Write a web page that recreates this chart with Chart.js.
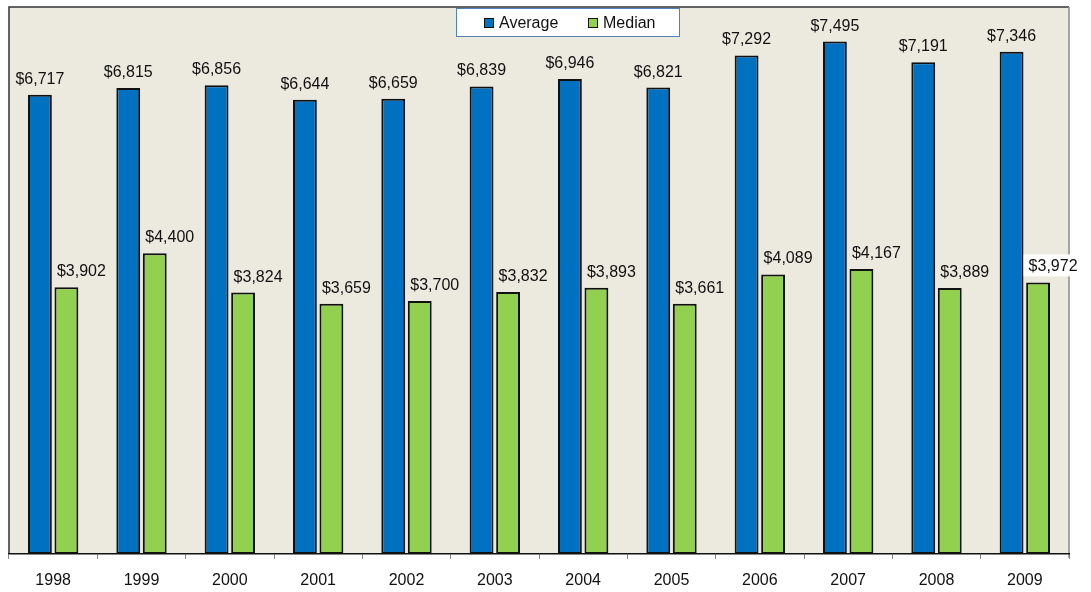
<!DOCTYPE html>
<html>
<head>
<meta charset="utf-8">
<script src="https://cdn.jsdelivr.net/npm/chart.js@4.4.1/dist/chart.umd.min.js"></script>
<style>
  html, body { margin: 0; padding: 0; background: #ffffff; }
  #wrap { width: 1091px; height: 592px; position: relative; }
</style>
</head>
<body>
<div id="wrap"><canvas id="c" width="1091" height="592"></canvas></div>
<script>
const years = ['1998','1999','2000','2001','2002','2003','2004','2005','2006','2007','2008','2009'];
const averageValues = [6717, 6815, 6856, 6644, 6659, 6839, 6946, 6821, 7292, 7495, 7191, 7346];
const medianValues = [3902, 4400, 3824, 3659, 3700, 3832, 3893, 3661, 4089, 4167, 3889, 3972];
const seriesNames = ['Average', 'Median'];

const FONT = '"Liberation Sans", Arial, Helvetica, sans-serif';
const fmt = v => '$' + v.toLocaleString('en-US');

const bgPlugin = {
  id: 'plotBg',
  beforeDraw(chart) {
    const {ctx, chartArea: a} = chart;
    ctx.save();
    ctx.fillStyle = '#ECE9DF';
    ctx.fillRect(a.left, a.top, a.right - a.left, a.bottom - a.top);
    ctx.lineWidth = 1.5;
    ctx.strokeStyle = '#333333';
    ctx.beginPath();
    ctx.moveTo(a.left, a.bottom);
    ctx.lineTo(a.left, a.top);
    ctx.lineTo(a.right, a.top);
    ctx.stroke();
    ctx.strokeStyle = '#8a8a8a';
    ctx.beginPath();
    ctx.moveTo(a.right, a.top);
    ctx.lineTo(a.right, a.bottom + 4);
    ctx.stroke();
    ctx.restore();
  }
};

const labelPlugin = {
  id: 'valueLabels',
  afterDatasetsDraw(chart) {
    const {ctx, chartArea: a} = chart;
    ctx.save();
    ctx.font = '16px ' + FONT;
    ctx.textBaseline = 'alphabetic';
    ctx.textAlign = 'center';
    chart.data.datasets.forEach((ds, di) => {
      const meta = chart.getDatasetMeta(di);
      meta.data.forEach((bar, i) => {
        const txt = fmt(ds.data[i]);
        const x = bar.x + (di === 1 ? 15 : 0);
        const y = bar.y - 11;
        const w = ctx.measureText(txt).width;
        if (x + w / 2 > a.right) {
          ctx.fillStyle = '#ffffff';
          ctx.fillRect(x - w / 2 - 5, y - 17, w + 10, 22);
        }
        ctx.fillStyle = '#111111';
        ctx.fillText(txt, x, y);
      });
    });
    ctx.restore();
  }
};

const legendPlugin = {
  id: 'boxLegend',
  afterDraw(chart) {
    const {ctx} = chart;
    ctx.save();
    const bx = 456, by = 8, bw = 223, bh = 28;
    ctx.fillStyle = '#ffffff';
    ctx.fillRect(bx, by, bw, bh);
    ctx.strokeStyle = '#4F81BD';
    ctx.lineWidth = 1;
    ctx.strokeRect(bx + 0.5, by + 0.5, bw, bh);
    ctx.font = '16px ' + FONT;
    ctx.textBaseline = 'alphabetic';
    ctx.textAlign = 'left';
    const xs = [484, 588];
    chart.data.datasets.forEach((ds, i) => {
      ctx.fillStyle = ds.backgroundColor;
      ctx.fillRect(xs[i], 18, 10, 10);
      ctx.strokeStyle = '#111111';
      ctx.lineWidth = 1;
      ctx.strokeRect(xs[i] + 0.5, 18.5, 9, 9);
      ctx.fillStyle = '#111111';
      ctx.fillText(ds.label, xs[i] + 15, 28);
    });
    ctx.restore();
  }
};

new Chart(document.getElementById('c'), {
  type: 'bar',
  data: {
    labels: years,
    datasets: [
      { label: seriesNames[0], data: averageValues, backgroundColor: '#0070C0', borderColor: '#111111', borderWidth: 2, borderSkipped: false },
      { label: seriesNames[1], data: medianValues, backgroundColor: '#92D050', borderColor: '#111111', borderWidth: 2, borderSkipped: false }
    ]
  },
  options: {
    responsive: false,
    animation: false,
    devicePixelRatio: 1,
    layout: { padding: { left: 9, right: 22, top: 7, bottom: 0 } },
    datasets: { bar: { categoryPercentage: 0.6, barPercentage: 0.9 } },
    plugins: { legend: { display: false }, tooltip: { enabled: false } },
    scales: {
      x: {
        grid: { display: true, drawOnChartArea: false, drawTicks: true, tickLength: 5, color: '#888888', offset: true },
        border: { display: true, color: '#111111', width: 1.5 },
        ticks: { font: { family: FONT, size: 16 }, color: '#111111', padding: 12, maxRotation: 0 },
        afterFit(scale) { scale.height = 38; }
      },
      y: {
        display: false,
        min: 0,
        max: 8000
      }
    }
  },
  plugins: [bgPlugin, labelPlugin, legendPlugin]
});
</script>
</body>
</html>
